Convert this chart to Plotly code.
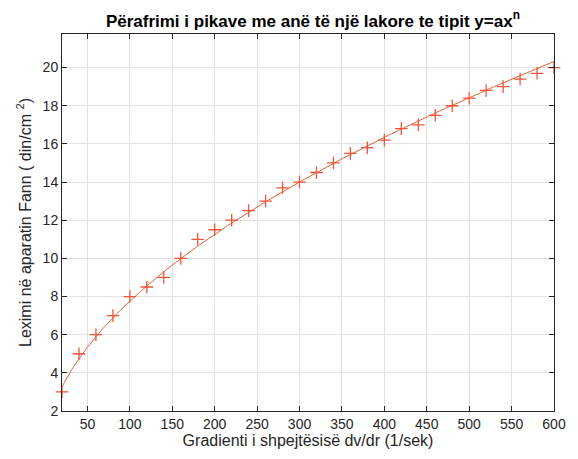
import numpy as np
import plotly.graph_objects as go

x_data = [20, 40, 60, 80, 100, 120, 140, 160, 180, 200, 220, 240, 260, 280, 300,
          320, 340, 360, 380, 400, 420, 440, 460, 480, 500, 520, 540, 560, 580, 600]
y_data = [3, 5, 6, 7, 8, 8.5, 9, 10, 11, 11.5, 12, 12.5, 13, 13.7, 14,
          14.5, 15, 15.5, 15.8, 16.2, 16.8, 17, 17.5, 18, 18.4, 18.8, 19, 19.4, 19.7, 20]
x_ticks = [50, 100, 150, 200, 250, 300, 350, 400, 450, 500, 550, 600]
y_ticks = [2, 4, 6, 8, 10, 12, 14, 16, 18, 20]

# power-law fit y = a x^n (log-space least squares)
n, loga = np.polyfit(np.log(x_data), np.log(y_data), 1)
a = np.exp(loga)
x_fit = np.linspace(20, 600, 300)
y_fit = a * x_fit ** n

fig = go.Figure()
fig.add_trace(go.Scatter(x=x_fit, y=y_fit, mode="lines",
                         line=dict(color="rgb(230,98,55)", width=1), showlegend=False))
fig.add_trace(go.Scatter(x=x_data, y=y_data, mode="markers", cliponaxis=False,
                         marker=dict(symbol="cross-thin-open", size=9,
                                     line=dict(color="red", width=1.3)),
                         showlegend=False))

font_family = "Liberation Sans, Arial, sans-serif"
axis_common = dict(showgrid=True, gridcolor="rgb(226,226,226)", gridwidth=1,
                   showline=True, linecolor="rgb(38,38,38)", linewidth=1, mirror="ticks",
                   ticks="inside", ticklen=5, tickcolor="rgb(38,38,38)",
                   tickfont=dict(family=font_family, size=14, color="rgb(38,38,38)"),
                   zeroline=False)

fig.update_layout(
    width=578, height=459,
    margin=dict(l=62, r=20, t=34, b=47),
    paper_bgcolor="white", plot_bgcolor="white",
    title=dict(text="<b>Përafrimi i pikave me anë të një lakore te tipit y=ax<sup>n</sup></b>",
               x=0.51, xanchor="center", xref="paper", y=0.955, yanchor="middle",
               font=dict(family=font_family, size=17, color="black")),
    xaxis=dict(range=[20, 600], tickvals=x_ticks,
               title=dict(text="Gradienti i shpejtësisë dv/dr (1/sek)", standoff=4,
                          font=dict(family=font_family, size=16, color="rgb(38,38,38)")),
               **axis_common),
    yaxis=dict(range=[2, 21.76], tickvals=y_ticks,
               title=dict(text="Leximi në aparatin Fann ( din/cm <sup>2</sup>)", standoff=7,
                          font=dict(family=font_family, size=16, color="rgb(38,38,38)")),
               **axis_common),
)

fig.write_html("out.html")
